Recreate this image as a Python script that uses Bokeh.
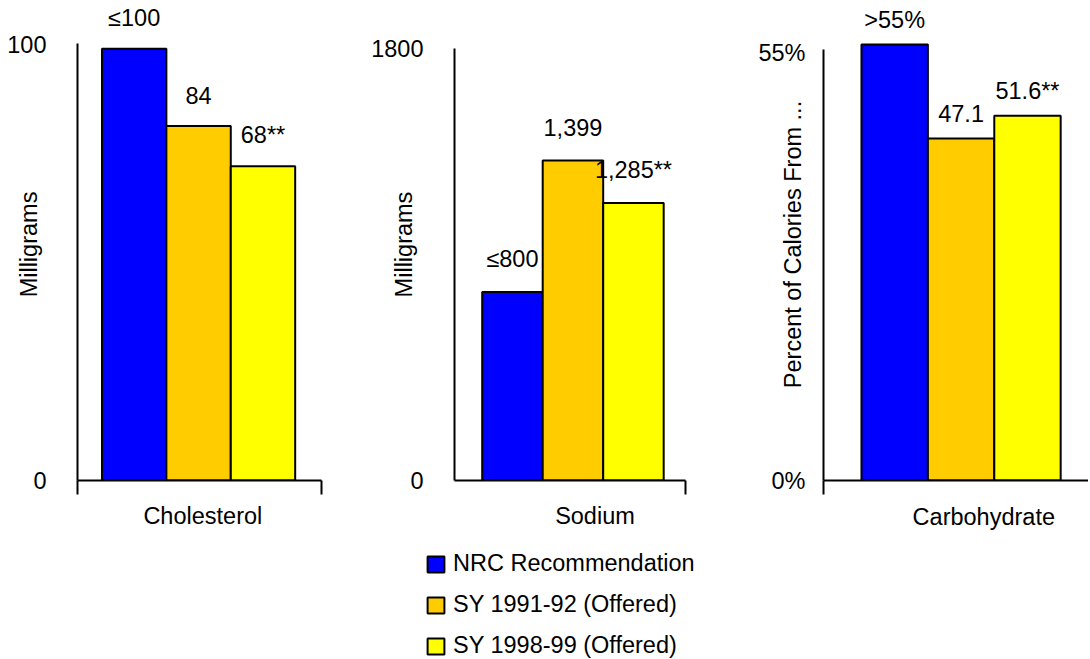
from bokeh.plotting import figure
from bokeh.models import Range1d, FixedTicker, Legend, LegendItem, ColumnDataSource
from bokeh.layouts import row, column
from bokeh.core.properties import value
from bokeh.embed import file_html
from bokeh.resources import INLINE

FONT = "Liberation Sans"
FS = "23.5px"

series = ["NRC Recommendation", "SY 1991-92 (Offered)", "SY 1998-99 (Offered)"]
colors = ["#0000FF", "#FFCC00", "#FFFF00"]
positions = [1, 2, 3]

chol_values = [100, 82.1, 72.8]
chol_labels = ["\u2264100", "84", "68**"]
sodium_values = [786, 1335, 1158]
sodium_labels = ["\u2264800", "1,399", "1,285**"]
carb_values = [56.05, 43.98, 46.9]
carb_labels = [">55%", "47.1", "51.6**"]


def make_panel(values, labels, category, ytitle, yticks, ytick_labels, y_axis_top,
               width, height, min_left, min_bottom, x_start, x_end, axis_x_end, y_end,
               cat_pos, end_ticks, y_standoff, x_standoff, title_standoff, label_gap):
    p = figure(width=width, height=height, x_range=Range1d(x_start, x_end),
               y_range=Range1d(0, y_end), output_backend="svg", toolbar_location=None,
               min_border_left=min_left, min_border_right=0, min_border_top=8,
               min_border_bottom=min_bottom, title=None)
    p.xgrid.visible = False
    p.ygrid.visible = False
    p.outline_line_color = None
    p.background_fill_color = "white"

    src = ColumnDataSource(dict(x=positions, top=values, color=colors, label=labels))
    p.vbar(x="x", top="top", bottom=0, width=1, fill_color="color",
           line_color="black", line_width=2, source=src)
    p.text(x="x", y="top", text="label", source=src, text_align="center",
           text_baseline="alphabetic", y_offset=-label_gap, text_font=value(FONT),
           text_font_size=FS, text_color="black")

    ya = p.yaxis[0]
    ya.ticker = FixedTicker(ticks=yticks, minor_ticks=[])
    ya.major_label_overrides = {t: l for t, l in zip(yticks, ytick_labels)}
    ya.major_tick_out = 0
    ya.major_tick_in = 0
    ya.minor_tick_out = 0
    ya.minor_tick_in = 0
    ya.bounds = (0, y_axis_top)
    ya.axis_line_width = 2
    ya.axis_line_color = "black"
    ya.major_label_standoff = y_standoff
    ya.major_label_text_font = FONT
    ya.major_label_text_font_size = FS
    ya.major_label_text_color = "black"
    ya.axis_label = ytitle
    ya.axis_label_standoff = title_standoff
    ya.axis_label_text_font = FONT
    ya.axis_label_text_font_size = FS
    ya.axis_label_text_font_style = "normal"
    ya.axis_label_text_color = "black"

    xa = p.xaxis[0]
    xa.ticker = FixedTicker(ticks=[cat_pos], minor_ticks=end_ticks)
    xa.major_label_overrides = {cat_pos: category}
    xa.major_tick_out = 0
    xa.major_tick_in = 0
    xa.minor_tick_out = 14
    xa.minor_tick_in = 0
    xa.minor_tick_line_width = 2
    xa.minor_tick_line_color = "black"
    xa.bounds = (x_start, axis_x_end)
    xa.axis_line_width = 2
    xa.axis_line_color = "black"
    xa.major_label_standoff = x_standoff
    xa.major_label_text_font = FONT
    xa.major_label_text_font_size = FS
    xa.major_label_text_color = "black"
    return p


p1 = make_panel(chol_values, chol_labels, "Cholesterol", "Milligrams", [0, 101.1], ["0", "100"], 101.2,
                348, 544, 77, 64, 0.12, 4.328, 3.904, 109.34,
                2.066, [0.121, 3.903], 31, 8, -38, 31)
p2 = make_panel(sodium_values, sodium_labels, "Sodium", "Milligrams", [0, 1801], ["0", "1800"], 1801.5,
                400, 544, 106, 60, 0.042, 4.902, 3.86, 1969.4,
                2.364, [3.859], 31, 8, -49, 33)
p3 = make_panel(carb_values, carb_labels, "Carbohydrate", "Percent of Calories From ...", [0, 55], ["0%", "55%"], 55.4,
                340, 544, 75, 60, -0.072, 3.919, 3.919, 60.68,
                2.342, [-0.071], 18, 9, -51, 25)

pl = figure(width=1088, height=114, x_range=Range1d(0, 1), y_range=Range1d(0, 1),
            output_backend="svg", toolbar_location=None, min_border=0, title=None,
            x_axis_location=None, y_axis_location=None)
pl.xgrid.visible = False
pl.ygrid.visible = False
pl.outline_line_color = None
items = []
for s, c in zip(series, colors):
    # zero-size proxy bar: nothing is drawn in the plot, only its legend swatch
    r = pl.vbar(x=[0.5], bottom=[0.5], top=[0.5], width=0, fill_color=c,
                line_color="black", line_width=2)
    items.append(LegendItem(label=s, renderers=[r]))
legend = Legend(items=items, location=(425, -1), orientation="vertical", padding=0, margin=0,
                spacing=14, glyph_width=21, glyph_height=20, label_standoff=7,
                label_text_font=FONT, label_text_font_size=FS, label_text_color="black",
                border_line_color=None, background_fill_alpha=0)
pl.add_layout(legend)

layout = column(row(p1, p2, p3), pl)
open("out.html", "w").write(file_html(layout, INLINE))
